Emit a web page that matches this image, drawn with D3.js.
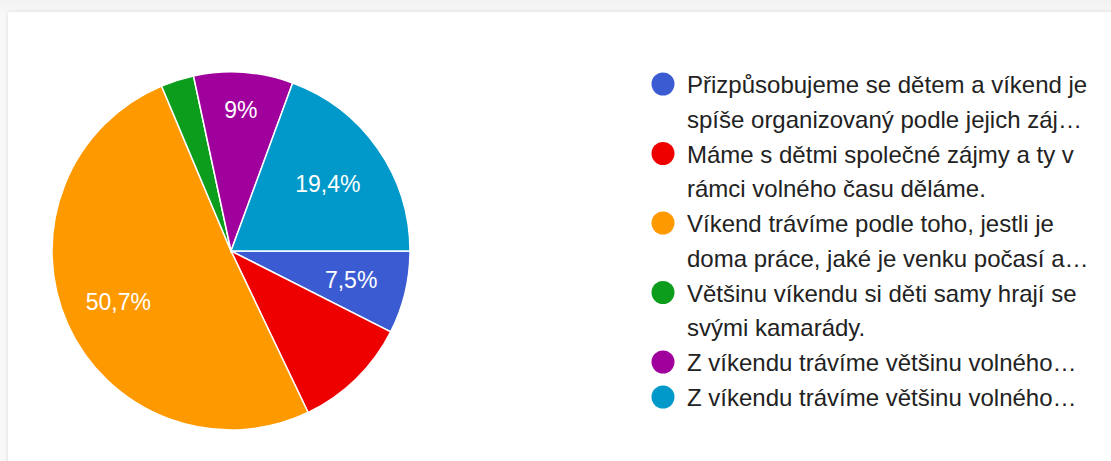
<!DOCTYPE html>
<html>
<head>
<meta charset="utf-8">
<script src="https://cdn.jsdelivr.net/npm/d3@7"></script>
<style>
  html, body { margin: 0; padding: 0; }
  body { width: 1111px; height: 461px; overflow: hidden; background: linear-gradient(#f2f2f2, #f8f8f8 14px); position: relative; }
  .card { position: absolute; left: 8px; top: 12px; width: 1120px; height: 470px; background: #fff;
          box-shadow: 0 0 4px rgba(0,0,0,0.12); }
  svg { position: absolute; left: 0; top: 0; }
  text { font-family: "Liberation Sans", Arial, sans-serif; }
</style>
</head>
<body>
<div class="card"></div>
<script>
// answers (counts out of 67 responses)
var answers = [
    ["Přizpůsobujeme se dětem a víkend je", "spíše organizovaný podle jejich záj…"],
    ["Máme s dětmi společné zájmy a ty v", "rámci volného času děláme."],
    ["Víkend trávíme podle toho, jestli je", "doma práce, jaké je venku počasí a…"],
    ["Většinu víkendu si děti samy hrají se", "svými kamarády."],
    ["Z víkendu trávíme většinu volného…"],
    ["Z víkendu trávíme většinu volného…"]
];
var counts = [5, 7, 34, 2, 6, 13];
var colors = ["#3b5bd3", "#ee0000", "#ff9900", "#0c9d1c", "#a0009c", "#0099c9"];
// google hides some slice labels
var showLabel = [true, false, true, false, true, true];

var width = 1111, height = 461;
var cx = 231, cy = 251, radius = 179;

var svg = d3.select("body").append("svg")
    .attr("width", width)
    .attr("height", height);

var total = d3.sum(counts);

// pie starts at 3 o'clock, going clockwise
var pie = d3.pie()
    .sort(null)
    .startAngle(Math.PI / 2)
    .endAngle(Math.PI / 2 + 2 * Math.PI);

var arcs = pie(counts);

var arc = d3.arc().innerRadius(0).outerRadius(radius);

var g = svg.append("g")
    .attr("transform", "translate(" + cx + "," + cy + ")");

g.selectAll("path")
    .data(arcs)
    .enter().append("path")
    .attr("d", arc)
    .style("fill", function(d, i) { return colors[i]; })
    .style("stroke", "#fff")
    .style("stroke-width", "1.5px");

// label distance from center (narrow upright slice pushed out a bit)
function labelRadius(i) {
    if (i === 4) return radius * 0.79;
    if (i === 5) return radius * 0.66;
    return radius * 0.69;
}

function fmt(v) {
    var p = Math.round(v / total * 1000) / 10;
    return String(p).replace(".", ",") + "%";
}

g.selectAll("text.lbl")
    .data(arcs.filter(function(d, i) { return showLabel[i]; }))
    .enter().append("text")
    .attr("class", "lbl")
    .attr("x", function(d) {
        var a = (d.startAngle + d.endAngle) / 2;
        return Math.sin(a) * labelRadius(d.index);
    })
    .attr("y", function(d) {
        var a = (d.startAngle + d.endAngle) / 2;
        return -Math.cos(a) * labelRadius(d.index);
    })
    .attr("dy", "0.36em")
    .attr("text-anchor", "middle")
    .style("fill", "#fff")
    .style("font-size", "23px")
    .text(function(d) { return fmt(d.value); });

// legend
var legendX = 663, legendY = 85, lineH = 34.5, itemGap = 0.5;
var legend = svg.append("g").attr("class", "legend");
var y = legendY;
answers.forEach(function(lines, i) {
    var item = legend.append("g");
    item.append("circle")
        .attr("cx", legendX)
        .attr("cy", y - 1)
        .attr("r", 11.5)
        .style("fill", colors[i]);
    lines.forEach(function(line, k) {
        item.append("text")
            .attr("x", legendX + 24)
            .attr("y", y + k * lineH)
            .attr("dy", "0.35em")
            .style("font-size", "24px")
            .style("fill", "#222")
            .text(line);
    });
    y += lines.length * lineH + itemGap;
});
</script>
</body>
</html>
